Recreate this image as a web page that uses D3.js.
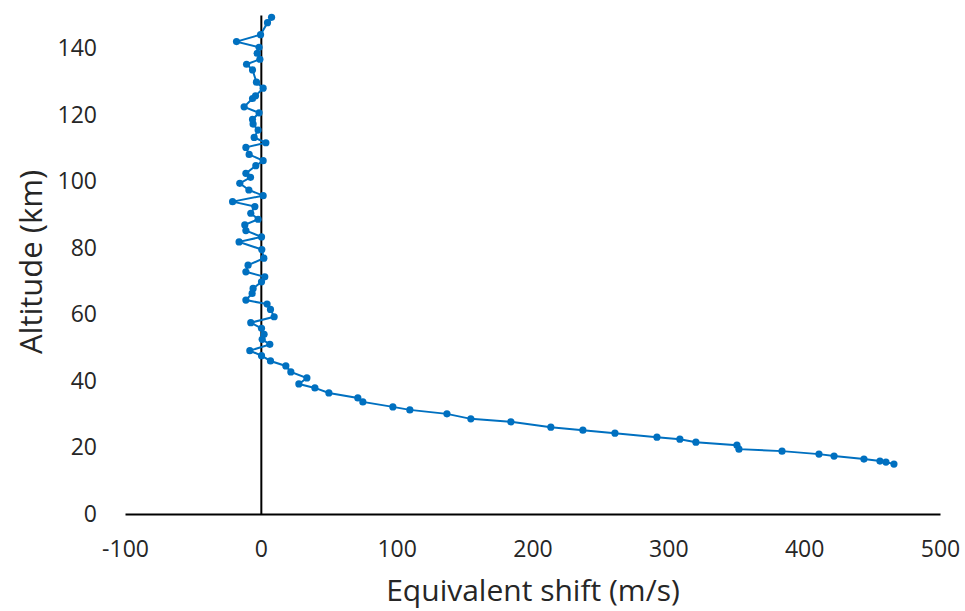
<!DOCTYPE html>
<html>
<head>
<meta charset="utf-8">
<script src="https://cdn.jsdelivr.net/npm/d3@7/dist/d3.min.js"></script>
<style>
  html, body { margin: 0; padding: 0; background: #ffffff; }
  svg { display: block; }
  text { font-family: "Open Sans", "Liberation Sans", sans-serif; fill: #262626; }
</style>
</head>
<body>
<svg id="chart" width="965" height="611"></svg>
<script>
// Equivalent shift (m/s) for each altitude point (km), ordered by altitude
const shift = [
  466.1, 460.2, 455.8, 444.0, 422.0, 410.9, 383.7, 352.0, 350.5, 320.3,
  308.5, 291.6, 260.7, 237.1, 213.5, 184.1, 154.6, 137.0, 109.7, 97.2,
  75.1, 71.4, 50.1, 39.8, 28.0, 33.9, 22.1, 18.4, 7.1, 0.5,
  -8.1, 6.6, 1.0, 2.4, 0.5, -7.4, 9.8, 7.1, 4.6, -11.0,
  -6.4, -5.7, 0.5, 2.9, -11.0, -9.4, 2.2, 0.7, -16.0, 0.5,
  -11.0, -11.8, -2.0, -7.4, -4.4, -20.8, 1.7, -8.8, -15.5, -7.6,
  -11.0, -3.7, 1.7, -8.6, -11.0, 3.7, -4.9, -2.0, -5.7, -6.1,
  -1.3, -12.3, -6.1, -3.9, 1.7, -3.2, -6.1, -10.5, -0.7, -2.7,
  -1.3, -17.9, -0.2, 4.9, 7.9
];
const altitude = [
  15.0, 15.6, 15.9, 16.5, 17.4, 18.0, 18.9, 19.5, 20.7, 21.6,
  22.5, 23.1, 24.3, 25.2, 26.1, 27.7, 28.6, 30.1, 31.3, 32.2,
  33.7, 34.9, 36.4, 37.9, 39.1, 40.9, 42.7, 44.5, 46.0, 47.6,
  49.1, 51.0, 52.5, 54.0, 55.8, 57.5, 59.3, 61.5, 63.1, 64.3,
  66.3, 67.8, 69.8, 71.3, 72.8, 74.8, 76.9, 79.5, 81.8, 83.3,
  85.2, 86.9, 88.6, 90.4, 92.4, 93.9, 95.7, 97.4, 99.4, 101.2,
  102.4, 104.7, 106.2, 108.1, 110.2, 111.6, 113.2, 115.4, 117.2, 118.6,
  120.6, 122.4, 124.9, 125.7, 128.0, 129.8, 133.5, 135.2, 136.7, 138.5,
  140.3, 142.0, 144.1, 147.7, 149.3
];
const xTicks = [-100, 0, 100, 200, 300, 400, 500];
const yTicks = [0, 20, 40, 60, 80, 100, 120, 140];
const xTitle = "Equivalent shift (m/s)";
const yTitle = "Altitude (km)";

const data = shift.map((s, i) => ({ x: s, y: altitude[i] }));

const svg = d3.select("#chart");
const mLeft = 125, mRight = 940, mTop = 15, mBottom = 514;

const x = d3.scaleLinear().domain([-100, 500]).range([mLeft, mRight]);
const y = d3.scaleLinear().domain([0, 150]).range([mBottom, mTop]);

// x axis (at altitude 0)
const xAxis = d3.axisBottom(x).tickValues(xTicks).tickSize(0).tickPadding(27)
  .tickFormat(d => String(d));
const gx = svg.append("g").attr("transform", `translate(0,${y(0)})`).call(xAxis);
gx.select(".domain").attr("stroke", "#000").attr("stroke-width", 2);
gx.selectAll("text").attr("font-size", 23).attr("fill", "#262626")
  .attr("font-family", "'Open Sans', sans-serif");

// y axis line (at shift 0) and labels at left
const yLine = d3.axisLeft(y).tickValues([]).tickSize(0);
const gy = svg.append("g").attr("transform", `translate(${x(0)},0)`).call(yLine);
gy.select(".domain").attr("stroke", "#000").attr("stroke-width", 2);

const yLabels = d3.axisLeft(y).tickValues(yTicks).tickSize(0).tickPadding(0)
  .tickFormat(d => String(d));
const gyl = svg.append("g").attr("transform", `translate(97,0)`).call(yLabels);
gyl.select(".domain").remove();
gyl.selectAll("text").attr("font-size", 23).attr("fill", "#262626")
  .attr("font-family", "'Open Sans', sans-serif");

// line
const line = d3.line().x(d => x(d.x)).y(d => y(d.y));
svg.append("path").datum(data)
  .attr("fill", "none").attr("stroke", "#0070C0").attr("stroke-width", 2)
  .attr("d", line);

svg.append("g").selectAll("circle").data(data).join("circle")
  .attr("cx", d => x(d.x)).attr("cy", d => y(d.y)).attr("r", 3.6)
  .attr("fill", "#0070C0");

// titles
svg.append("text").attr("x", 533).attr("y", 601)
  .attr("text-anchor", "middle").attr("font-size", 30).text(xTitle);
svg.append("text").attr("transform", `translate(42,262) rotate(-90)`)
  .attr("text-anchor", "middle").attr("font-size", 31).text(yTitle);
</script>
</body>
</html>
